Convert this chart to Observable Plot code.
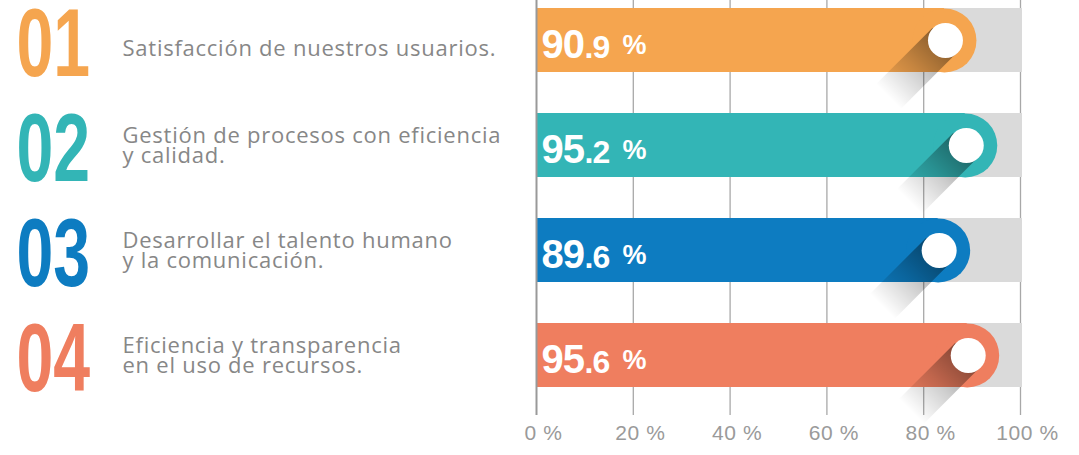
<!DOCTYPE html>
<html><head><meta charset="utf-8">
<script src="https://cdn.jsdelivr.net/npm/d3@7"></script>
<script src="https://cdn.jsdelivr.net/npm/@observablehq/plot@0.6"></script>
<style>html,body{margin:0;padding:0;background:#fff;}</style>
</head><body><div id="chart"></div>
<script>
const ids = ["01", "02", "03", "04"];
const labels = [
  "Satisfacción de nuestros usuarios.",
  "Gestión de procesos con eficiencia\ny calidad.",
  "Desarrollar el talento humano\ny la comunicación.",
  "Eficiencia y transparencia\nen el uso de recursos."
];
const values = [90.9, 95.2, 89.6, 95.6];
const colors = ["#F5A54F", "#33B5B6", "#0D7CC1", "#EF7E5F"];
const ticks = [0, 20, 40, 60, 80, 100];

const rows = ids.map((id, i) => ({id, label: labels[i], value: values[i], color: colors[i]}));
const labelFont = "'Open Sans', sans-serif";

const plot = Plot.plot({
  width: 1079, height: 455,
  marginLeft: 536, marginRight: 59, marginTop: 0, marginBottom: 40,
  style: {fontFamily: "'Liberation Sans', Arial, sans-serif", background: "#fff", overflow: "visible"},
  x: {domain: [0, 100], axis: null},
  y: {domain: ids, range: [7, 388], paddingInner: 0.394, paddingOuter: 0, axis: null},
  color: {type: "identity"},
  marks: [
    /*0*/ Plot.ruleX(ticks.slice(1), {stroke: "#a8a8a8", strokeWidth: 1.3}),
    /*1*/ Plot.barX(rows, {x1: 0, x2: 100, y: "id", fill: "#dadada", insetRight: -2}),
    /*2*/ Plot.barX(rows, {x1: 0, x2: "value", y: "id", fill: "color", insetRight: 32}),
    /*3*/ Plot.dot(rows, {x: "value", y: "id", r: 32, fill: "color", dx: -32}),
    /*4*/ Plot.dot(rows, {x: "value", y: "id", r: 17.5, fill: "white", dx: -31}),
    /*5*/ Plot.ruleX([0], {stroke: "#999", strokeWidth: 2}),
    /*6*/ Plot.text(rows, {x: 0, y: "id", text: d => String(Math.trunc(d.value)), textAnchor: "start",
      dx: 5, dy: 5, fontSize: 40, fontWeight: "bold", fill: "white"}),
    /*7*/ Plot.text(rows, {x: 0, y: "id", text: d => "." + String(Math.round(d.value * 10) % 10), textAnchor: "start",
      dx: 48, dy: 7.5, fontSize: 32, fontWeight: "bold", fill: "white"}),
    /*8*/ Plot.text(rows, {x: 0, y: "id", text: d => "%", textAnchor: "start",
      dx: 86, dy: 4.5, fontSize: 27, fontWeight: "bold", fill: "white"}),
    /*9*/ Plot.text(rows, {x: 0, y: "id", text: "id", textAnchor: "start",
      dx: -520, dy: 5, fontSize: 96, fontWeight: "bold", fill: "color"}),
    /*10*/ Plot.text(rows, {filter: d => !d.label.includes("\n"), x: 0, y: "id", text: "label", textAnchor: "start",
      dx: -414, dy: 8, fontSize: 22, fill: "#878787", fontFamily: labelFont}),
    /*11*/ Plot.text(rows, {filter: d => d.label.includes("\n"), x: 0, y: "id", text: "label", textAnchor: "start",
      dx: -414, dy: 1, fontSize: 22, lineHeight: 0.92, fill: "#878787", fontFamily: labelFont}),
    /*12*/ Plot.axisX({ticks: ticks, tickFormat: d => `${d} %`, tickSize: 0, tickPadding: 10,
      fontSize: 21, fill: "#9a9a9a", color: "#9a9a9a", dx: 7, anchor: "bottom", label: null})
  ]
});

document.getElementById("chart").appendChild(plot);

const svg = d3.select(plot);
const groups = Array.from(plot.children).filter(n => n.tagName.toLowerCase() === "g");

// condense the big numbers
d3.select(groups[9]).selectAll("text").each(function () {
  const s = 0.69;
  const t = this.getAttribute("transform");
  if (t) this.setAttribute("transform", t + ` scale(${s},1)`);
  else {
    const x = +this.getAttribute("x") || 0;
    this.setAttribute("transform", `translate(${x},0) scale(${s},1) translate(${-x},0)`);
  }
});
d3.selectAll([groups[6], groups[7]]).selectAll("text").style("letter-spacing", "-1px");
d3.selectAll([groups[10], groups[11]]).selectAll("text").style("letter-spacing", "0.75px");
d3.select(groups[12]).selectAll("text").style("letter-spacing", "0.6px");

// long shadows behind the knobs, placed with the plot's own scales
const xs = plot.scale("x"), ys = plot.scale("y");
const defs = svg.append("defs");
const shadowG = d3.select(plot.insertBefore(document.createElementNS("http://www.w3.org/2000/svg", "g"), groups[4]));
const r = 17.5, L = 80, k = Math.SQRT1_2;
rows.forEach((d, i) => {
  const cx = xs.apply(d.value) - 31;
  const cy = ys.apply(d.id) + ys.bandwidth / 2;
  const g = defs.append("linearGradient").attr("id", "sh" + i)
    .attr("gradientUnits", "userSpaceOnUse")
    .attr("x1", cx).attr("y1", cy).attr("x2", cx - L * k).attr("y2", cy + L * k);
  g.append("stop").attr("offset", 0).attr("stop-color", "#000").attr("stop-opacity", 0.45);
  g.append("stop").attr("offset", 0.5).attr("stop-color", "#000").attr("stop-opacity", 0.2);
  g.append("stop").attr("offset", 1).attr("stop-color", "#000").attr("stop-opacity", 0);
  const p1 = [cx + r * k, cy + r * k], p2 = [cx - r * k, cy - r * k];
  const p3 = [p2[0] - L * k, p2[1] + L * k], p4 = [p1[0] - L * k, p1[1] + L * k];
  shadowG.append("path").attr("d", `M${p1}L${p2}L${p3}L${p4}Z`).attr("fill", `url(#sh${i})`);
});
</script>
</body></html>
